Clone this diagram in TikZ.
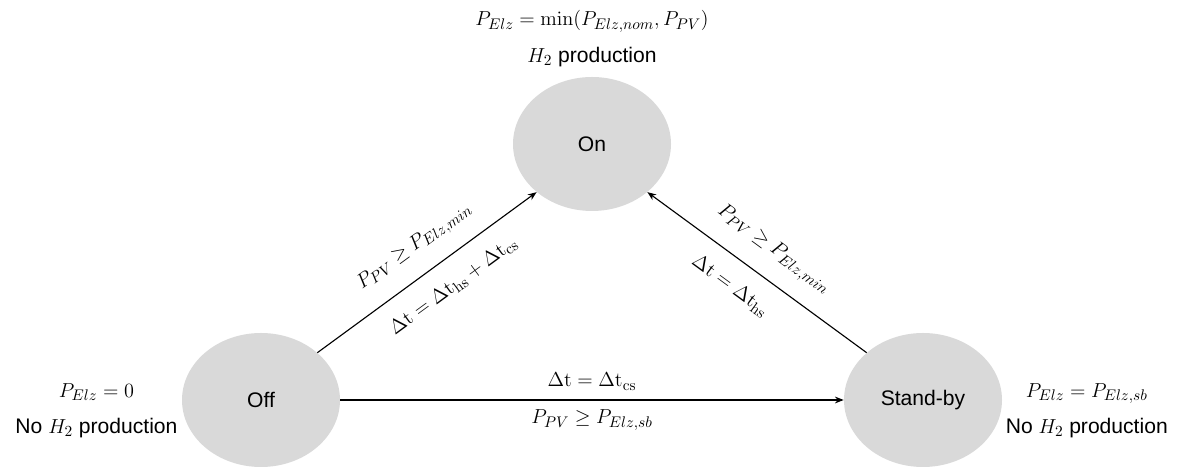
\documentclass[tikz,border=0pt]{standalone}
\usepackage[no-math]{fontspec}
\setmainfont{Liberation Sans}
\usepackage{amsmath,amssymb}
\usetikzlibrary{arrows.meta,positioning,shapes.geometric}

\begin{document}
\begin{tikzpicture}[>={Stealth[length=2.2mm,width=1.7mm]}, font=\fontsize{15}{18}\selectfont,
    state/.style={ellipse, fill=black!15, minimum width=3.95cm, minimum height=3.35cm, inner sep=0pt},
    cond/.style={font=\fontsize{15.5}{18}\selectfont, inner sep=1pt},
    info/.style={align=center, inner sep=0pt, font=\fontsize{15}{26}\selectfont}]
  \useasboundingbox (0,0) rectangle (29.5,11.7);
  \node[state] (off) at (6.525,1.7) {Off};
  \node[state] (on) at (14.8,8.1) {On};
  \node[state] (sb) at (23.075,1.7) {Stand-by};
  \node[info] (oninfo) [above=0.25cm of on] {$P_{Elz}=\min(P_{Elz,nom},P_{PV})$\\$H_2$ production};
  \node[info] (offinfo) [left=0.1cm of off, yshift=-0.27cm] {$P_{Elz}=0$\\No $H_2$ production};
  \node[info] (sbinfo) [right=0.08cm of sb, yshift=-0.27cm] {$P_{Elz}=P_{Elz,sb}$\\No $H_2$ production};
  \draw[->, line width=0.8pt] (off.40) -- node[cond, sloped, above=4mm, pos=0.52] {$P_{PV}\geq P_{Elz,min}$}
    node[cond, sloped, below=4mm, pos=0.55] {$\Delta\mathrm{t}=\Delta\mathrm{t}_{\mathrm{hs}}+\Delta\mathrm{t}_{\mathrm{cs}}$} (on.221);
  \draw[->, line width=0.8pt] (sb.140) -- node[cond, sloped, above=4mm, pos=0.5] {$P_{PV}\geq P_{Elz,min}$}
    node[cond, sloped, below=4mm, pos=0.55] {$\Delta\mathrm{t}=\Delta\mathrm{t}_{\mathrm{hs}}$} (on.319);
  \draw[->, line width=0.8pt] (off) -- node[cond, above=2mm] {$\Delta\mathrm{t}=\Delta\mathrm{t}_{\mathrm{cs}}$}
    node[cond, below=2mm] {$P_{PV}\geq P_{Elz,sb}$} (sb);
\end{tikzpicture}
\end{document}
